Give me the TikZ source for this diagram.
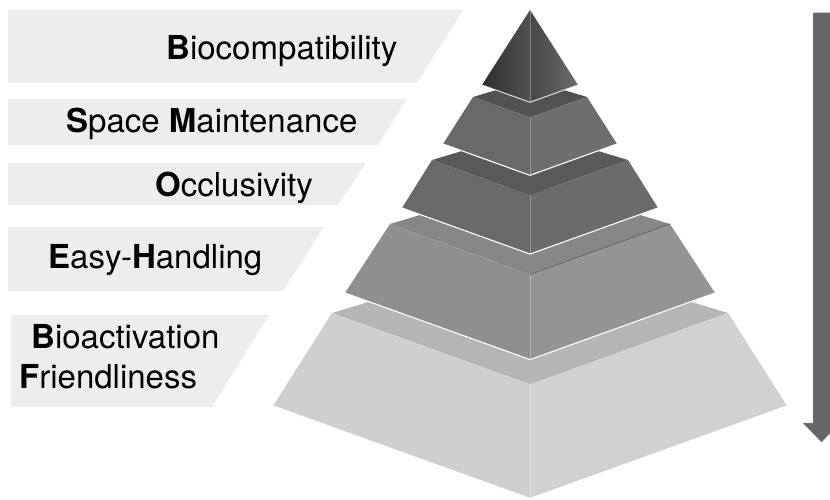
\documentclass[tikz,border=0pt]{standalone}
\usepackage{fontspec}
\setmainfont{TeX Gyre Heros}
\definecolor{bandgray}{HTML}{EDEDED}
\definecolor{arrowgray}{HTML}{666666}
\newcommand\pyrtier[7]{%
  \fill[#5] ({530-#1},#2) -- (530,{#2+0.36*#1}) -- ({530+#1},#2) -- (530,{#2-0.3*#1}) -- cycle;
  \fill[#6] ({530-#1},#2) -- (530,{#2+0.36*#1}) -- (530,{#4+0.36*#3}) -- ({530-#3},#4) -- cycle;
  \fill[#7] ({530+#1},#2) -- (530,{#2+0.36*#1}) -- (530,{#4+0.36*#3}) -- ({530+#3},#4) -- cycle;
  \draw[white, opacity=0.3, line width=0.6pt] (530,{#2+0.36*#1}) -- (530,{#4+0.36*#3});
  \draw[white, line width=1.1pt, line cap=round] ({530-#3},#4) -- (530,{#4+0.36*#3}) -- ({530+#3},#4);
}
\begin{document}
\begin{tikzpicture}[x=1pt,y=-1pt,
  labeltext/.style={font=\fontsize{33}{39}\selectfont, anchor=base west, inner sep=0pt, text=black},
  band/.style={fill=bandgray}]
\clip (0,0) rectangle (830,500);
\fill[white] (0,0) rectangle (830,500);

% label bands
\fill[band] (8,10) -- (463,10) -- (417,83) -- (8,83) -- cycle;
\fill[band] (8,99) -- (407,99) -- (378,145) -- (8,145) -- cycle;
\fill[band] (8,163) -- (366,163) -- (338,205) -- (8,205) -- cycle;
\fill[band] (8,227) -- (324,227) -- (283,291) -- (8,291) -- cycle;
\fill[band] (11,315) -- (269,315) -- (212,407) -- (11,407) -- cycle;

% labels
\node[labeltext] (l1) at (166,60) {\textbf{B}iocompatibility};
\node[labeltext] (l2) at (66,132) {\textbf{S}pace \textbf{M}aintenance};
\node[labeltext] (l3) at (155,196) {\textbf{O}cclusivity};
\node[labeltext] (l4) at (48,268) {\textbf{E}asy-\textbf{H}andling};
\node[labeltext] (l5) at (31,348) {\textbf{B}ioactivation};
\node[labeltext] (l6) at (19,388) {\textbf{F}riendliness};

% pyramid tiers (bottom to top)
\pyrtier{198}{313}{257}{406}{black!29}{black!19}{black!18}
\pyrtier{140}{224}{185}{293}{black!47}{black!44}{black!42}
\draw[black!60, line width=0.8pt] (530,{224+0.36*140}) -- (670,224);
\pyrtier{98}{160}{128}{208}{black!65}{black!59}{black!58}
\pyrtier{57}{97}{87}{144}{black!68}{black!59}{black!57}

% apex
\shade[left color=black!82, right color=black!68] (530,10) -- (482,85) -- (530,102.3) -- cycle;
\shade[left color=black!72, right color=black!58] (530,10) -- (530,102.3) -- (578,85) -- cycle;
\draw[white, opacity=0.3, line width=0.6pt] (530,10) -- (530,102.3);
\draw[white, opacity=0.8, line width=1pt, line cap=round] (482,85) -- (530,102.3) -- (578,85);

% arrow
\fill[arrowgray, draw=black!45, line width=0.5pt]
  (813,13) -- (832,13) -- (832,423) -- (840,423) -- (821.5,442) -- (803,423) -- (813,423) -- cycle;
\end{tikzpicture}
\end{document}
